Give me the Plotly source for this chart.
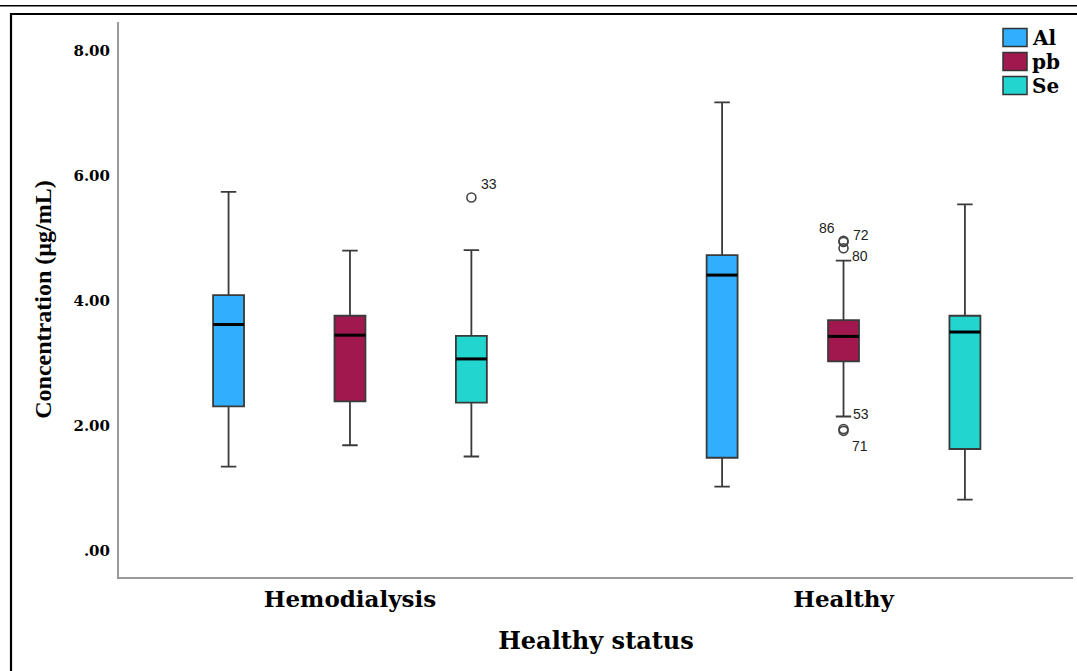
import plotly.graph_objects as go

# Groups on the x axis
groups = ["Hemodialysis", "Healthy"]

# Series (elements) and their fills
elements = ["Al", "pb", "Se"]
fills = ["#31AEFE", "#A0184E", "#22D5CF"]

# Box statistics per element, one value per group (Hemodialysis, Healthy)
lower_whisker = {"Al": [1.35, 1.03], "pb": [1.69, 2.15], "Se": [1.51, 0.82]}
q1_values = {"Al": [2.31, 1.49], "pb": [2.39, 3.03], "Se": [2.37, 1.63]}
medians = {"Al": [3.62, 4.41], "pb": [3.45, 3.43], "Se": [3.07, 3.50]}
q3_values = {"Al": [4.09, 4.73], "pb": [3.76, 3.69], "Se": [3.44, 3.76]}
upper_whisker = {"Al": [5.74, 7.17], "pb": [4.80, 4.64], "Se": [4.81, 5.54]}

# Outlying cases: (group, element, value, case id)
outlier_group = ["Hemodialysis", "Healthy", "Healthy", "Healthy", "Healthy", "Healthy"]
outlier_element = ["Se", "pb", "pb", "pb", "pb", "pb"]
outlier_value = [5.65, 4.96, 4.94, 4.84, 1.95, 1.92]
outlier_case = ["33", "86", "72", "80", "53", "71"]

y_tickvals = [0, 2, 4, 6, 8]
y_ticktext = [".00", "2.00", "4.00", "6.00", "8.00"]

BOXGAP = 0.262
BOXGROUPGAP = 0.745
n_el = len(elements)
slot = (1 - BOXGAP) / n_el
half_w = slot * (1 - BOXGROUPGAP) / 2


def offset(el):
    k = elements.index(el)
    return (k - (n_el - 1) / 2) * slot


gx = list(range(len(groups)))
serif = "DejaVu Serif"

fig = go.Figure()

for el, col in zip(elements, fills):
    fig.add_trace(go.Box(
        name=el,
        x=gx,
        q1=q1_values[el],
        median=medians[el],
        q3=q3_values[el],
        lowerfence=lower_whisker[el],
        upperfence=upper_whisker[el],
        fillcolor=col,
        line=dict(color="#3a3a3a", width=1.8),
        whiskerwidth=0.5,
        boxpoints=False,
        showlegend=False,
        hoverinfo="skip",
    ))

# Heavier median bars on top of each box
for el in elements:
    for gi in gx:
        cx = gi + offset(el)
        fig.add_trace(go.Scatter(
            x=[cx - half_w, cx + half_w],
            y=[medians[el][gi], medians[el][gi]],
            mode="lines",
            line=dict(color="#000000", width=3),
            showlegend=False,
            hoverinfo="skip",
        ))

# Outliers as open circles
ox = [groups.index(g) + offset(e) for g, e in zip(outlier_group, outlier_element)]
fig.add_trace(go.Scatter(
    x=ox,
    y=outlier_value,
    mode="markers",
    marker=dict(symbol="circle-open", size=9, color="#444444", line=dict(width=1.6)),
    showlegend=False,
    hoverinfo="skip",
))

# Case-number labels beside the outliers
label_shift = {"33": (18, 14), "86": (-17, 13), "72": (17, 7), "80": (16, -8),
               "53": (17, 15), "71": (16, -15)}
for x, y, case in zip(ox, outlier_value, outlier_case):
    dx, dy = label_shift[case]
    fig.add_annotation(x=x, y=y, xref="x", yref="y", text=case, showarrow=False,
                       xshift=dx, yshift=dy,
                       font=dict(family="Liberation Sans, Arial", size=14, color="#222222"))

W, H = 1077, 671
L, R, T, B = 119, 4, 22, 94
pw, ph = W - L - R, H - T - B


def px_x(p):
    return (p - L) / pw


def px_y(p):
    return (H - B - p) / ph


# Legend drawn as swatches with labels in the top-right corner
for i, (el, col) in enumerate(zip(elements, fills)):
    top = 28.5 + i * 24
    fig.add_shape(type="rect", xref="paper", yref="paper",
                  x0=px_x(1003), x1=px_x(1027), y0=px_y(top), y1=px_y(top + 18),
                  fillcolor=col, line=dict(color="#333333", width=1.5))
    fig.add_annotation(xref="paper", yref="paper", x=px_x(1030), y=px_y(top + 9),
                       text=el, showarrow=False, xanchor="left", yanchor="middle",
                       font=dict(family=serif, size=20, color="#000000", weight="bold"))

# Page rules around the figure
fig.add_shape(type="line", xref="paper", yref="paper",
              x0=px_x(0), x1=px_x(W), y0=px_y(5.7), y1=px_y(5.7),
              line=dict(color="#000000", width=1.5))
fig.add_shape(type="rect", xref="paper", yref="paper",
              x0=px_x(11), x1=px_x(W + 10), y0=px_y(14), y1=px_y(H + 10),
              line=dict(color="#000000", width=2.2))

fig.update_layout(
    width=W, height=H,
    margin=dict(l=L, r=R, t=T, b=B),
    paper_bgcolor="white",
    plot_bgcolor="white",
    boxmode="group",
    boxgap=BOXGAP,
    boxgroupgap=BOXGROUPGAP,
    xaxis=dict(
        range=[-0.468, 1.465],
        tickvals=gx, ticktext=groups,
        showline=True, linecolor="#999999", linewidth=2,
        showgrid=False, zeroline=False, ticks="",
        tickfont=dict(family=serif, size=23, color="#000000", weight="bold"),
        ticklabelstandoff=0,
        title=dict(text="Healthy status", standoff=22,
                   font=dict(family=serif, size=24, color="#000000", weight="bold")),
    ),
    yaxis=dict(
        range=[-0.416, 8.456],
        tickvals=y_tickvals, ticktext=y_ticktext,
        showline=True, linecolor="#999999", linewidth=2,
        showgrid=False, zeroline=False, ticks="",
        tickfont=dict(family=serif, size=15, color="#000000", weight="bold"),
        ticklabelstandoff=4,
        title=dict(text="Concentration (µg/mL)", standoff=15,
                   font=dict(family="Liberation Serif, Times New Roman", size=24,
                             color="#000000", weight="bold")),
    ),
)

fig.write_html("out.html")
